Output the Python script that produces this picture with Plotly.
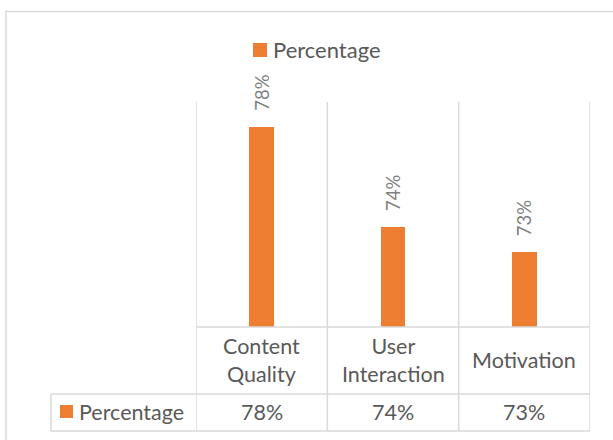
import plotly.graph_objects as go

categories = ["Content<br>Quality", "User<br>Interaction", "Motivation"]
values = [78, 74, 73]
series_name = "Percentage"
value_labels = [f"{v}%" for v in values]

W, H = 613, 440
L, R, T, B = 196, 590, 102, 327  # plot area pixels
pw, ph = R - L, B - T

def px(x):
    return (x - L) / pw

def py(y):
    return (B - y) / ph

orange = "#ED7D31"
grid = "#D9D9D9"
txt = "#595959"
font = "Lato, 'Open Sans', sans-serif"

fig = go.Figure()
fig.add_trace(go.Bar(
    x=list(range(len(categories))), y=values, base=0,
    marker=dict(color=orange, line=dict(width=0)),
    width=0.19, name=series_name, showlegend=False,
    cliponaxis=False, hoverinfo="skip",
))

shapes = []
n = len(categories)
shapes.append(dict(type="rect", xref="paper", yref="paper",
                   x0=px(6), x1=px(640), y0=py(11.5), y1=py(460),
                   line=dict(color="#D9D9D9", width=1.5), layer="below"))
for i in range(n + 1):
    shapes.append(dict(type="line", xref="x", yref="paper",
                       x0=i - 0.5, x1=i - 0.5, y0=py(431), y1=1,
                       line=dict(color=grid, width=1.5)))
shapes.append(dict(type="line", xref="x", yref="paper", x0=-0.5, x1=n - 0.5,
                   y0=0, y1=0, line=dict(color=grid, width=1.5)))
for yy in (394, 431):
    shapes.append(dict(type="line", xref="paper", yref="paper", x0=px(51), x1=1,
                       y0=py(yy), y1=py(yy), line=dict(color=grid, width=1.5)))
shapes.append(dict(type="line", xref="paper", yref="paper", x0=px(51), x1=px(51),
                   y0=py(394), y1=py(431), line=dict(color=grid, width=1.5)))
shapes.append(dict(type="rect", xref="paper", yref="paper",
                   x0=px(253), x1=px(267), y0=py(43), y1=py(57),
                   fillcolor=orange, line=dict(width=0)))
shapes.append(dict(type="rect", xref="paper", yref="paper",
                   x0=px(60), x1=px(73), y0=py(405), y1=py(418),
                   fillcolor=orange, line=dict(width=0)))

ann = []
ann.append(dict(xref="paper", yref="paper", x=px(271), y=py(49), text=series_name,
                showarrow=False, xanchor="left", yanchor="middle",
                font=dict(family=font, size=22, color=txt)))
ann.append(dict(xref="paper", yref="paper", x=px(77), y=py(412), text=series_name,
                showarrow=False, xanchor="left", yanchor="middle",
                font=dict(family=font, size=21.5, color=txt)))
for i, c in enumerate(categories):
    ann.append(dict(xref="x", yref="paper", x=i, y=py(360), text=c,
                    showarrow=False, xanchor="center", yanchor="middle",
                    font=dict(family=font, size=21.5, color=txt)))
    ann.append(dict(xref="x", yref="paper", x=i, y=py(412), text=value_labels[i],
                    showarrow=False, xanchor="center", yanchor="middle",
                    font=dict(family=font, size=21.5, color=txt)))
    ann.append(dict(xref="x", yref="y", x=i, y=values[i], text=value_labels[i],
                    showarrow=False, xanchor="center", yanchor="bottom",
                    textangle=-90, yshift=14,
                    font=dict(family=font, size=18.5, color="#7F7F7F")))

fig.update_layout(
    width=W, height=H,
    margin=dict(l=L, r=W - R, t=T, b=H - B, pad=0),
    paper_bgcolor="white", plot_bgcolor="white",
    xaxis=dict(range=[-0.5, n - 0.5], showticklabels=False, showgrid=False,
               zeroline=False, showline=False, ticks=""),
    yaxis=dict(range=[70, 79], visible=False, showgrid=False),
    shapes=shapes, annotations=ann, showlegend=False,
    bargap=0,
)
fig.write_html("out.html", config={"displayModeBar": False},
               post_script="document.body.style.margin='0';document.body.style.overflow='hidden';")
